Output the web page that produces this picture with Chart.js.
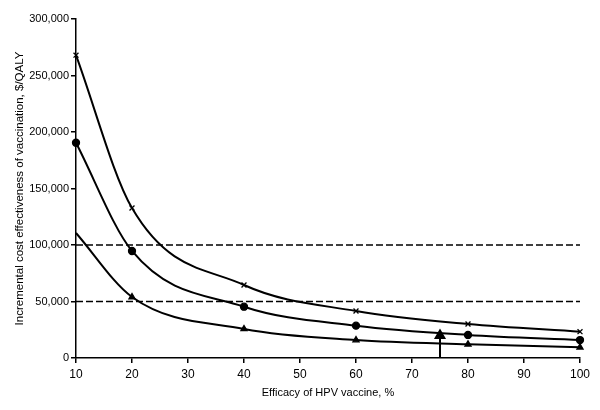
<!DOCTYPE html>
<html><head><meta charset="utf-8">
<script src="https://cdn.jsdelivr.net/npm/chart.js@4.4.1/dist/chart.umd.min.js"></script>
<style>html,body{margin:0;padding:0;background:#fff;}canvas{display:block;}</style>
</head><body>
<canvas id="c" width="600" height="410"></canvas>
<script>
const efficacy = [10, 20, 40, 60, 80, 100];
const seriesCross = [268000, 132700, 64600, 41600, 30100, 23300];
const seriesCircle = [190500, 94700, 45400, 28600, 20400, 15900];
const seriesTriangle = [110600, 54000, 25700, 15900, 12100, 9500];
const thresholds = [100000, 50000];
const arrowX = 75;
const arrowTop = 20000;
const yTicks = [0, 50000, 100000, 150000, 200000, 250000, 300000];

const toPts = (xs, ys) => xs.map((x, i) => ({x, y: ys[i]}));
const curve = (data, style, showFirst) => ({
  data: toPts(efficacy, data),
  borderColor: '#000', backgroundColor: '#000', borderWidth: 2,
  cubicInterpolationMode: 'monotone',
  pointStyle: style,
  pointRadius: data.map((_, i) => (i === 0 && !showFirst) ? 0 : 3.5),
  pointBorderWidth: 1.3,
  clip: false
});
const datasets = [
  curve(seriesCross, 'crossRot', true),
  curve(seriesCircle, 'circle', true),
  curve(seriesTriangle, 'triangle', false),
  ...thresholds.map(t => ({
    data: [{x: 10, y: t}, {x: 100, y: t}],
    borderColor: '#000', borderWidth: 1.5, borderDash: [7, 3], pointRadius: 0
  })),
  {
    data: [{x: arrowX, y: 0}, {x: arrowX, y: arrowTop}],
    borderColor: '#000', backgroundColor: '#000', borderWidth: 2,
    pointStyle: 'triangle', pointRadius: [0, 5]
  }
];

new Chart(document.getElementById('c'), {
  type: 'line',
  data: {datasets},
  options: {
    responsive: false, animation: false,
    layout: {padding: {top: 19, right: 20, left: 0, bottom: 0}},
    plugins: {legend: {display: false}, tooltip: {enabled: false}},
    scales: {
      x: {
        type: 'linear', min: 10, max: 100,
        afterFit: s => { s.height = 52; },
        ticks: {stepSize: 10, color: '#000', font: {family: 'Liberation Sans', size: 12}, padding: 4},
        grid: {drawOnChartArea: false, drawTicks: true, tickLength: 5, color: '#000', lineWidth: 1.5},
        border: {color: '#000', width: 1.5},
        title: {display: true, text: 'Efficacy of HPV vaccine, %', color: '#000', font: {family: 'Liberation Sans', size: 11}, padding: {top: 0, bottom: 10}}
      },
      y: {
        min: 0, max: 300000,
        afterFit: s => { s.width = 76; },
        afterBuildTicks: s => { s.ticks = yTicks.map(v => ({value: v})); },
        ticks: {color: '#000', font: {family: 'Liberation Sans', size: 11}, padding: 2,
          callback: v => v.toLocaleString('en-US')},
        grid: {drawOnChartArea: false, drawTicks: true, tickLength: 5, color: '#000', lineWidth: 1.5},
        border: {color: '#000', width: 1.5},
        title: {display: true, text: 'Incremental cost effectiveness of vaccination, $/QALY', color: '#000', font: {family: 'Liberation Sans', size: 11.5}, padding: {top: 13, bottom: 0}}
      }
    }
  }
});
</script>
</body></html>
